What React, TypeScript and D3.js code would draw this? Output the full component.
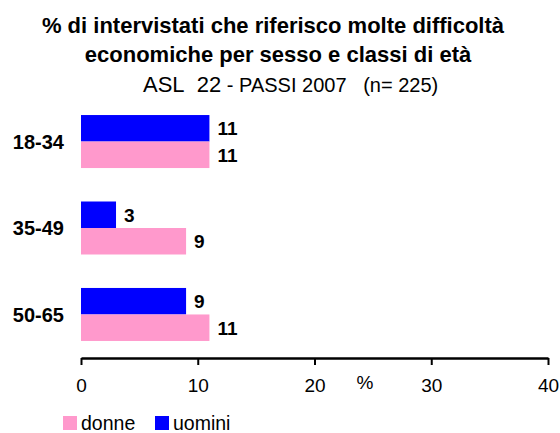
import { useEffect, useRef } from 'react';
import * as d3 from 'd3';

const categories = ['18-34', '35-49', '50-65'];
const uomini = [11, 3, 9];
const donne = [11, 9, 11];
const series = ['uomini', 'donne'];
const xTicks = [0, 10, 20, 30, 40];

const colors = { uomini: '#0000ff', donne: '#ff99cc' };
const FONT = '"Liberation Sans", Arial, sans-serif';

const App = () => {
  const ref = useRef<SVGSVGElement>(null);

  useEffect(() => {
    const svg = d3.select(ref.current);
    svg.selectAll('*').remove();

    const x = d3.scaleLinear().domain([0, 40]).range([81, 548]);
    const y = d3.scaleBand().domain(categories).range([98, 358]).paddingInner(0.387).paddingOuter(0.197);
    const ys = d3.scaleBand().domain(series).range([0, y.bandwidth()]);

    const rows = categories.map((c, i) => ({ cat: c, uomini: uomini[i], donne: donne[i] }));

    // title
    const title = svg.append('g').attr('font-family', FONT).attr('fill', '#000');
    title.append('text').attr('x', 273).attr('y', 33).attr('text-anchor', 'middle')
      .attr('font-size', 22).attr('font-weight', 'bold')
      .text('% di intervistati che riferisco molte difficoltà');
    title.append('text').attr('x', 278).attr('y', 62).attr('text-anchor', 'middle')
      .attr('font-size', 22).attr('font-weight', 'bold')
      .text('economiche per sesso e classi di età');
    const sub = title.append('text').attr('x', 143).attr('y', 92);
    sub.append('tspan').attr('font-size', 22).text('ASL\u00a0\u00a022');
    sub.append('tspan').attr('font-size', 20).text(' - PASSI 2007\u00a0\u00a0\u00a0(n= 225)');

    // bars
    const groups = svg.append('g').selectAll('g').data(rows).enter().append('g')
      .attr('transform', d => `translate(0,${y(d.cat)})`);

    series.forEach(s => {
      groups.append('rect')
        .attr('x', x(0))
        .attr('y', ys(s))
        .attr('width', d => x(d[s]) - x(0))
        .attr('height', ys.bandwidth())
        .attr('fill', colors[s]);
      groups.append('text')
        .attr('x', d => x(d[s]) + 8)
        .attr('y', ys(s) + ys.bandwidth() / 2)
        .attr('dy', '0.36em')
        .attr('font-family', FONT)
        .attr('font-size', 19)
        .attr('font-weight', 'bold')
        .text(d => d[s]);
    });

    // category labels
    svg.append('g').selectAll('text').data(categories).enter().append('text')
      .attr('x', 64)
      .attr('y', d => y(d) + y.bandwidth() / 2)
      .attr('dy', '0.36em')
      .attr('text-anchor', 'end')
      .attr('font-family', FONT)
      .attr('font-size', 20)
      .attr('font-weight', 'bold')
      .text(d => d);

    // x axis
    const axis = svg.append('g')
      .attr('transform', 'translate(0,358)')
      .call(d3.axisBottom(x).tickValues(xTicks).tickSize(7).tickPadding(14).tickSizeOuter(0));
    axis.select('.domain').attr('stroke', '#000').attr('stroke-width', 2.5);
    axis.selectAll('.tick line').attr('stroke', '#000').attr('stroke-width', 2);
    axis.selectAll('.tick text').attr('font-family', FONT).attr('font-size', 19).attr('fill', '#000');

    svg.append('text').attr('x', 365).attr('y', 389).attr('text-anchor', 'middle')
      .attr('font-family', FONT).attr('font-size', 19).text('%');

    // legend
    const legendItems = [
      { key: 'donne', x: 63 },
      { key: 'uomini', x: 155 },
    ];
    const lg = svg.append('g').selectAll('g').data(legendItems).enter().append('g')
      .attr('transform', d => `translate(${d.x},416)`);
    lg.append('rect').attr('width', 14).attr('height', 14).attr('fill', d => colors[d.key]);
    lg.append('text').attr('x', 18).attr('y', 14)
      .attr('font-family', FONT).attr('font-size', 19.5).text(d => d.key);
  }, []);

  return (
    <svg ref={ref} width={560} height={433} style={{ position: 'absolute', left: 0, top: 0, background: '#fff' }} />
  );
};

export default App;
